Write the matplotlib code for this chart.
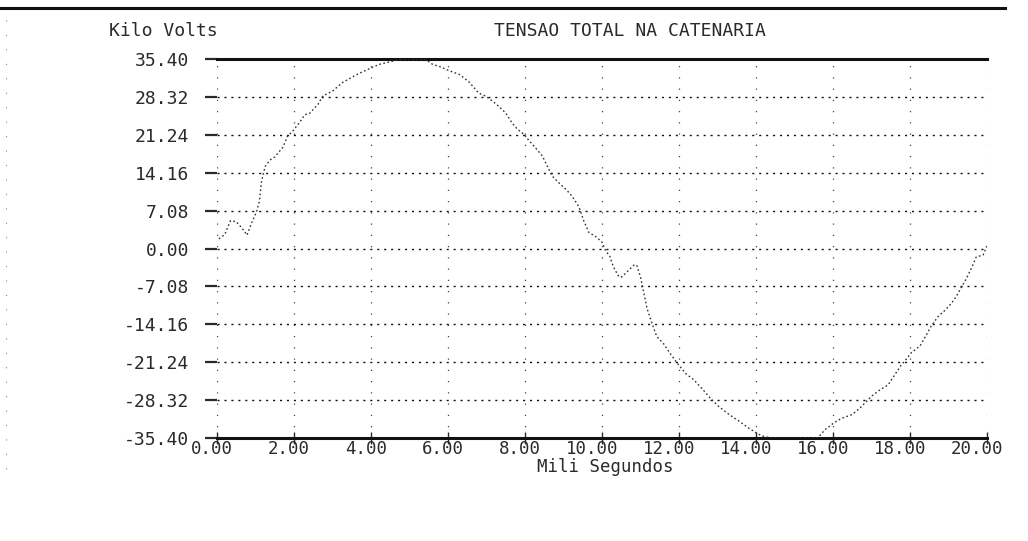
import matplotlib
matplotlib.use("Agg")
import matplotlib.pyplot as plt
from matplotlib.lines import Line2D
from matplotlib.transforms import ScaledTranslation

# Catenary voltage over one 50 Hz cycle
tempo_ms = [0.05, 0.2, 0.35, 0.5, 0.65, 0.78, 0.9, 1.03, 1.1, 1.16, 1.25, 1.37, 1.5,
            1.71, 1.84, 1.94, 2.15, 2.28, 2.4, 2.62, 2.75, 3.0, 3.26, 3.63, 3.96,
            4.22, 4.56, 4.8, 5.1, 5.4, 5.6, 5.78, 6.0, 6.3, 6.55, 6.8, 6.94, 7.07,
            7.25, 7.5, 7.67, 7.8, 7.98, 8.1, 8.19, 8.45, 8.7, 8.83, 9.07, 9.22, 9.4,
            9.53, 9.66, 9.84, 10.0, 10.1, 10.2, 10.3, 10.44, 10.52, 10.7, 10.83,
            10.9, 11.0, 11.17, 11.3, 11.42, 11.6, 11.79, 11.94, 12.18, 12.38, 12.6,
            12.82, 13.03, 13.3, 13.55, 13.8, 14.0, 14.15, 14.4, 14.8, 15.2, 15.6,
            15.8, 16.0, 16.2, 16.5, 16.7, 17.0, 17.22, 17.43, 17.77, 17.9, 18.03,
            18.26, 18.42, 18.55, 18.73, 18.9, 19.07, 19.2, 19.33, 19.45, 19.6,
            19.72, 19.9, 20.0]
tensao_kv = [1.8, 2.6, 5.2, 5.0, 3.8, 2.5, 4.8, 6.9, 8.8, 12.7, 15.3, 16.5, 17.1,
             18.9, 21.1, 21.7, 23.6, 25.0, 25.2, 26.9, 28.5, 29.4, 31.0, 32.5, 33.6,
             34.4, 35.0, 35.4, 35.4, 35.4, 34.4, 34.0, 33.3, 32.5, 31.1, 29.0, 28.6,
             28.0, 27.0, 25.3, 23.4, 22.3, 21.3, 20.2, 19.5, 17.3, 13.6, 12.6, 11.0,
             9.8, 7.8, 5.1, 3.0, 2.2, 1.2, -0.5, -1.4, -3.5, -5.3, -5.3, -4.0, -3.1,
             -3.1, -5.3, -11.2, -14.0, -16.4, -17.8, -19.8, -21.3, -23.4, -24.5,
             -26.2, -28.0, -29.5, -31.0, -32.2, -33.5, -34.4, -35.0, -35.4, -35.4,
             -35.4, -35.4, -33.8, -32.7, -31.8, -31.0, -29.8, -27.6, -26.4, -25.5,
             -21.8, -20.7, -19.5, -18.2, -16.2, -14.5, -12.7, -11.6, -10.3, -9.0,
             -7.3, -5.8, -3.6, -1.6, -1.2, 0.5]

y_ticks = [35.40, 28.32, 21.24, 14.16, 7.08, 0.00, -7.08, -14.16, -21.24, -28.32, -35.40]
y_labels = ["35.40", "28.32", "21.24", "14.16", "7.08", "0.00", "-7.08",
            "-14.16", "-21.24", "-28.32", "-35.40"]
x_ticks = [0, 2, 4, 6, 8, 10, 12, 14, 16, 18, 20]
x_labels = ["0.00", "2.00", "4.00", "6.00", "8.00", "10.00", "12.00",
            "14.00", "16.00", "18.00", "20.00"]

FONT = "DejaVu Sans Mono"
INK = "#2a2a2a"
W, H = 1028, 541

fig = plt.figure(figsize=(W / 100, H / 100), dpi=100)
ax = fig.add_axes([217 / W, 1 - 438 / H, 770 / W, 379 / H])

ax.plot(tempo_ms, tensao_kv, color="#333333", lw=1.0, linestyle=(0, (1.2, 1.8)),
        zorder=3)

ax.set_xlim(0, 20)
ax.set_ylim(-35.40, 35.40)

ax.set_yticks(y_ticks)
ax.set_yticklabels(y_labels, fontfamily=FONT, fontsize=13, color=INK)
ax.set_xticks(x_ticks)
ax.set_xticklabels(x_labels, fontfamily=FONT, fontsize=12.5, color=INK)

ax.tick_params(axis="y", length=9, width=1.6, direction="out", pad=11, colors=INK)
ax.tick_params(axis="x", length=8, width=1.0, direction="inout", pad=-2.5, colors=INK)

# x labels sit right-aligned just past each tick
shift = ScaledTranslation(16 / 100, 0, fig.dpi_scale_trans)
for lab in ax.get_xticklabels():
    lab.set_ha("right")
    lab.set_transform(lab.get_transform() + shift)

ax.yaxis.grid(True, color="#111111", lw=1.0, linestyle=(0, (1.5, 3.5)))
ax.xaxis.grid(True, color="#444444", lw=0.9, linestyle=(0, (1, 8)))
ax.set_axisbelow(True)

for side in ("left", "right"):
    ax.spines[side].set_visible(False)
for side in ("top", "bottom"):
    ax.spines[side].set_linewidth(2.2)
    ax.spines[side].set_color("#111111")

fig.text(630 / W, 1 - 31 / H, "TENSAO TOTAL NA CATENARIA", ha="center", va="center",
         fontfamily=FONT, fontsize=13, color=INK)
fig.text(163 / W, 1 - 31 / H, "Kilo Volts", ha="center", va="center",
         fontfamily=FONT, fontsize=13, color=INK)
fig.text(605 / W, 1 - 467 / H, "Mili Segundos", ha="center", va="center",
         fontfamily=FONT, fontsize=12.5, color=INK)

# page edges
fig.add_artist(Line2D([0, 1005 / W], [1 - 8 / H, 1 - 8 / H], transform=fig.transFigure,
                      color="#111111", lw=2.2))
fig.add_artist(Line2D([6 / W, 6 / W], [1 - 20 / H, 1 - 480 / H], transform=fig.transFigure,
                      color="#888888", lw=0.8, linestyle=(0, (1, 12))))

fig.savefig("out.png", dpi=100, facecolor="white")
